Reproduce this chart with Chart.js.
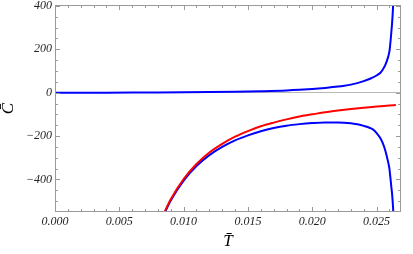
<!DOCTYPE html>
<html>
<head>
<meta charset="utf-8">
<script src="https://cdn.jsdelivr.net/npm/chart.js@4.4.1/dist/chart.umd.min.js"></script>
<style>
  html, body { margin: 0; padding: 0; background: #fff; }
  #wrap { width: 413px; height: 254px; }
</style>
</head>
<body>
<div id="wrap"><canvas id="chart"></canvas></div>
<script>
// valores (T, C)
const redT = [0.0084, 0.0090, 0.0100, 0.0110, 0.0120, 0.0130, 0.0140, 0.0150, 0.0160, 0.0170,
              0.0180, 0.0190, 0.0200, 0.0210, 0.0220, 0.0230, 0.0240, 0.0250, 0.0260, 0.0265];
const redC = [-564, -491, -398, -329, -276, -236, -203, -177, -155, -138,
              -123, -110, -100, -90, -82, -75, -69, -64, -59, -57];

const blueLowT = [0.0084, 0.0090, 0.0100, 0.0110, 0.0120, 0.0130, 0.0140, 0.0150, 0.0160, 0.0170,
                  0.0180, 0.0190, 0.0200, 0.0210, 0.0220, 0.0230, 0.0235, 0.0240, 0.0245, 0.0248,
                  0.0250, 0.0253, 0.0255, 0.0257, 0.0259, 0.0260, 0.02605, 0.0261, 0.02615, 0.0262,
                  0.02625, 0.0263, 0.02636];
const blueLowC = [-570, -497, -405, -338, -288, -250, -220, -197, -178, -163,
                  -152, -145, -140, -137, -137, -141, -146, -153, -163, -173,
                  -186, -210, -235, -271, -320, -350, -378, -405, -435, -462,
                  -500, -550, -650];

const blueUpT = [0, 0.002, 0.004, 0.006, 0.008, 0.010, 0.012, 0.014, 0.016, 0.018,
                 0.019, 0.020, 0.021, 0.022, 0.0225, 0.023, 0.0235, 0.024, 0.0245, 0.025,
                 0.0253, 0.0255, 0.0257, 0.0259, 0.0260, 0.02605, 0.0261, 0.02615, 0.0262, 0.02625,
                 0.0263, 0.02635];
const blueUpC = [0, 0, 0.1, 0.3, 0.8, 1.5, 2.5, 4, 6.5, 10,
                 13, 17, 22, 28, 32, 37, 44, 53, 64, 79,
                 92, 108, 130, 165, 190, 215, 245, 280, 315, 360,
                 420, 520];

const xTicks = [0, 0.005, 0.010, 0.015, 0.020, 0.025];
const yTicks = [-400, -200, 0, 200, 400];

const toPts = (xs, ys) => xs.map((t, i) => ({x: t, y: ys[i]}));

// marco con ticks hacia adentro (estilo Mathematica)
const frameTicks = {
    id: 'frameTicks',
    afterDatasetsDraw(chart) {
        const {ctx, chartArea: a, scales: {x, y}} = chart;
        ctx.save();
        ctx.strokeStyle = '#9a9a9a';
        ctx.lineWidth = 1;
        ctx.strokeRect(a.left + 0.5, a.top + 0.5, a.right - a.left - 1, a.bottom - a.top - 1);
        ctx.beginPath();
        for (let i = 0; i * 0.001 <= x.max; i++) {
            const px = Math.round(x.getPixelForValue(i * 0.001)) + 0.5;
            const len = i % 5 === 0 ? 5 : 3;
            ctx.moveTo(px, a.bottom); ctx.lineTo(px, a.bottom - len);
            ctx.moveTo(px, a.top); ctx.lineTo(px, a.top + len);
        }
        for (let v = -500; v <= 400; v += 50) {
            const py = Math.round(y.getPixelForValue(v)) + 0.5;
            const len = v % 200 === 0 ? 5 : 3;
            ctx.moveTo(a.left, py); ctx.lineTo(a.left + len, py);
            ctx.moveTo(a.right, py); ctx.lineTo(a.right - len, py);
        }
        ctx.stroke();
        ctx.restore();
    }
};

const tickFont = {family: "'Liberation Serif', serif", style: 'italic', size: 12};

new Chart(document.getElementById('chart'), {
    type: 'scatter',
    data: {
        datasets: [
            {data: toPts(blueUpT, blueUpC), borderColor: '#0000ff', borderWidth: 2, showLine: true,
             pointRadius: 0, cubicInterpolationMode: 'monotone'},
            {data: toPts(redT, redC), borderColor: '#ff0000', borderWidth: 2, showLine: true,
             pointRadius: 0, cubicInterpolationMode: 'monotone'},
            {data: toPts(blueLowT, blueLowC), borderColor: '#0000ff', borderWidth: 2, showLine: true,
             pointRadius: 0, cubicInterpolationMode: 'monotone'},
        ],
    },
    options: {
        responsive: true,
        maintainAspectRatio: false,
        animation: false,
        layout: {padding: {top: 5, right: 12, left: 0, bottom: 0}},
        scales: {
            x: {
                type: 'linear',
                min: 0,
                max: 0.0269,
                afterBuildTicks: (s) => { s.ticks = xTicks.map((v) => ({value: v})); },
                afterFit: (s) => { s.height = 42; s.paddingLeft = 0; s.paddingRight = 0; },
                ticks: {
                    color: '#222',
                    font: tickFont,
                    padding: 3,
                    maxRotation: 0,
                    callback: (v) => v.toFixed(3),
                },
                grid: {drawOnChartArea: false, drawTicks: false},
                border: {display: false},
                title: {
                    display: true,
                    text: 'T\u0304',
                    color: '#000',
                    font: {family: "'Liberation Serif', serif", style: 'italic', size: 17, lineHeight: 1},
                    padding: {top: 0, bottom: 4},
                },
            },
            y: {
                min: -550,
                max: 404,
                afterBuildTicks: (s) => { s.ticks = yTicks.map((v) => ({value: v})); },
                afterFit: (s) => { s.width = 55; s.paddingTop = 0; s.paddingBottom = 0; },
                ticks: {
                    color: '#222',
                    font: tickFont,
                    padding: 3,
                    callback: (v) => (v < 0 ? '\u2212' + Math.abs(v) : '' + v),
                },
                grid: {
                    drawTicks: false,
                    color: (c) => (c.tick && c.tick.value === 0 ? '#b8b8b8' : 'rgba(0,0,0,0)'),
                },
                border: {display: false},
                title: {
                    display: true,
                    text: 'C\u0304',
                    color: '#000',
                    font: {family: "'Liberation Serif', serif", style: 'italic', size: 17, lineHeight: 1},
                    padding: 0,
                },
            },
        },
        plugins: {
            legend: {display: false},
            tooltip: {enabled: false},
        },
    },
    plugins: [frameTicks],
});
</script>
</body>
</html>
